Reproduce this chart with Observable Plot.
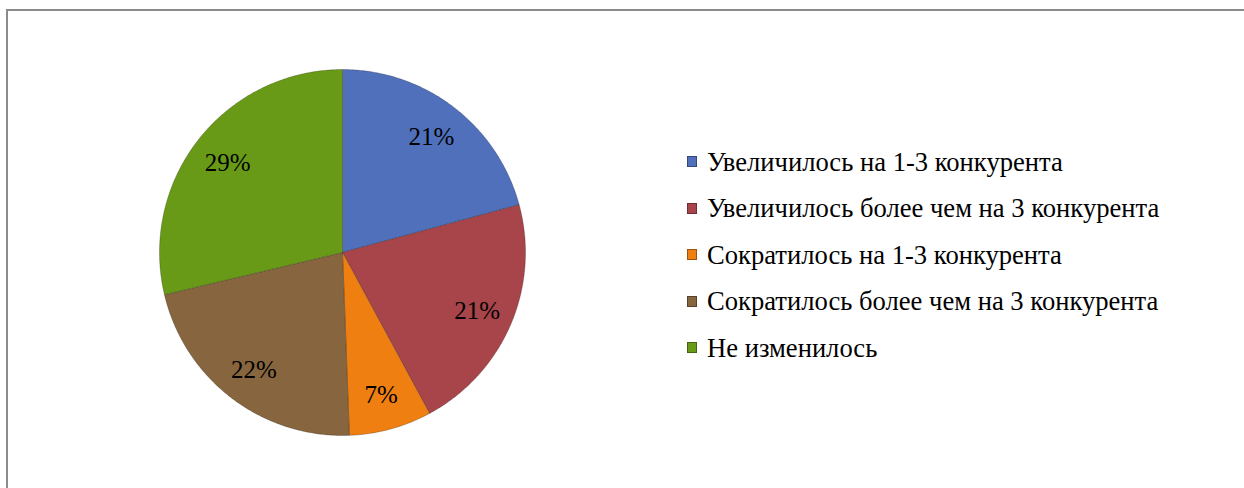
<!DOCTYPE html>
<html>
<head>
<meta charset="utf-8">
<script src="https://cdn.jsdelivr.net/npm/d3@7"></script>
<script src="https://cdn.jsdelivr.net/npm/@observablehq/plot@0.6"></script>
<style>
  html, body { margin: 0; padding: 0; background: #fff; }
  #wrap { position: relative; width: 1244px; height: 488px; overflow: hidden; font-family: "Liberation Serif", "Times New Roman", serif; }
  #frame { position: absolute; left: 6px; top: 9px; width: 1300px; height: 600px; border-left: 2px solid #8c8c8c; border-top: 2px solid #8c8c8c; box-sizing: border-box; }
  #chart { position: absolute; left: 0; top: 0; }
  #legend { position: absolute; left: 687px; top: 138.5px; }
  .item { display: flex; align-items: center; height: 46.5px; line-height: 46.5px; font-size: 26.6px; color: #000; white-space: nowrap; }
  .sw { width: 10px; height: 11px; margin-right: 10px; box-sizing: border-box; border: 1px solid rgba(0,0,0,0.35); flex: none; }
</style>
</head>
<body>
<div id="wrap">
  <div id="frame"></div>
  <div id="chart"></div>
  <div id="legend"></div>
</div>
<script>
const categories = [
  "Увеличилось на 1-3 конкурента",
  "Увеличилось более чем на 3 конкурента",
  "Сократилось на 1-3 конкурента",
  "Сократилось более чем на 3 конкурента",
  "Не изменилось"
];
// shares (labels show rounded values)
const values = [20.8, 21.3, 7.3, 21.9, 28.7];
const valueLabels = ["21%", "21%", "7%", "22%", "29%"];
const colors = ["#5070BC", "#A8454A", "#EE7F10", "#86653F", "#699A17"];

const arcs = d3.pie().sort(null).value(d => d)(values);

// slice outlines sampled along each arc (geometry, not data)
const pts = [];
arcs.forEach((a, i) => {
  const cat = categories[i];
  pts.push({cat, x: 0, y: 0});
  const n = Math.max(8, Math.ceil((a.endAngle - a.startAngle) / 0.01));
  for (let k = 0; k <= n; k++) {
    const t = a.startAngle + (a.endAngle - a.startAngle) * k / n;
    pts.push({cat, x: Math.sin(t), y: Math.cos(t)});
  }
  pts.push({cat, x: 0, y: 0});
});

const labelPts = arcs.map((a, i) => {
  const m = (a.startAngle + a.endAngle) / 2;
  const r = 0.8;
  return {text: valueLabels[i], x: r * Math.sin(m), y: r * Math.cos(m)};
});

const chart = Plot.plot({
  width: 1244,
  height: 488,
  margin: 0,
  x: {domain: [-1, 1], range: [159, 525], axis: null},
  y: {domain: [-1, 1], range: [435, 69], axis: null},
  color: {domain: categories, range: colors},
  style: {background: "transparent"},
  marks: [
    Plot.line(pts, {x: "x", y: "y", z: "cat", fill: "cat", stroke: "rgba(0,0,0,0.28)", strokeWidth: 0.8, curve: "linear"}),
    Plot.text(labelPts, {x: "x", y: "y", text: "text", fontSize: 25, fontFamily: "Liberation Serif", fill: "#000", dy: 1})
  ]
});
document.getElementById("chart").appendChild(chart);

const legend = document.getElementById("legend");
categories.forEach((c, i) => {
  const row = document.createElement("div");
  row.className = "item";
  const sw = document.createElement("span");
  sw.className = "sw";
  sw.style.background = colors[i];
  const tx = document.createElement("span");
  tx.textContent = c;
  row.appendChild(sw);
  row.appendChild(tx);
  legend.appendChild(row);
});
</script>
</body>
</html>
